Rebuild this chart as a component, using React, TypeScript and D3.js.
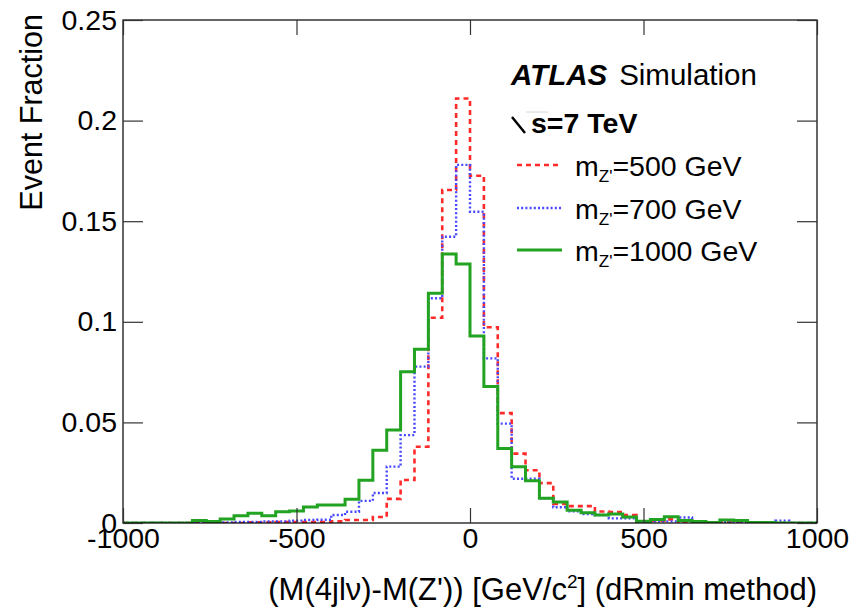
import { useEffect, useRef } from 'react';
import * as d3 from 'd3';

const width = 852;
const height = 611;
const [mt, mr, mb, ml] = [20, 35, 88, 123];
const FONT = '"Liberation Sans", Arial, Helvetica, sans-serif';

// 50 bins of 40 GeV from -1000 to 1000
const binEdges = d3.range(-1000, 1001, 40);
const xTicks = [-1000, -500, 0, 500, 1000];
const yTicks = [0, 0.05, 0.1, 0.15, 0.2, 0.25];

const mz500 = [
    0, 0, 0, 0, 0, 0, 0, 0, 0, 0.0003,
    0.0003, 0.0005, 0.0005, 0.0005, 0.0005, 0.0008, 0.0015, 0.0015, 0.003, 0.012,
    0.0214, 0.0379, 0.102, 0.1655, 0.211, 0.1726, 0.0973, 0.0546, 0.0345, 0.0262,
    0.0198, 0.0095, 0.0084, 0.0084, 0.0057, 0.0055, 0.004, 0.0007, 0.0012, 0.0018,
    0, 0, 0, 0.0003, 0.0003, 0, 0, 0, 0, 0,
];
const mz700 = [
    0, 0, 0, 0, 0, 0.0003, 0.0005, 0.0003, 0.0005, 0.0005,
    0.0008, 0.0008, 0.0012, 0.0015, 0.0016, 0.004, 0.0056, 0.011, 0.0149, 0.028,
    0.0437, 0.0777, 0.1117, 0.1423, 0.178, 0.1547, 0.0818, 0.0494, 0.022, 0.022,
    0.0123, 0.0078, 0.0058, 0.0045, 0.004, 0.0023, 0.0023, 0.0005, 0.0008, 0.0008,
    0.0027, 0.0003, 0.0002, 0.0005, 0.0005, 0.0002, 0, 0.0012, 0, 0,
];
const mz1000 = [
    0, 0, 0, 0, 0, 0.0012, 0.0008, 0.002, 0.0036, 0.0048,
    0.0036, 0.0056, 0.006, 0.008, 0.0089, 0.0089, 0.0118, 0.0212, 0.0362, 0.0462,
    0.0752, 0.0863, 0.1142, 0.1337, 0.1287, 0.0929, 0.0678, 0.037, 0.028, 0.021,
    0.0123, 0.0104, 0.0063, 0.0051, 0.004, 0.0045, 0.003, 0.0009, 0.0018, 0.0031,
    0.0012, 0.0008, 0.0003, 0.0015, 0.0013, 0.0003, 0.0002, 0, 0, 0,
];

const series = [
    { mass: '500', values: mz500, color: '#ff2b2b', dash: '5,4', width: 2.6 },
    { mass: '700', values: mz700, color: '#4848ff', dash: '2,2.2', width: 2.4 },
    { mass: '1000', values: mz1000, color: '#22a322', dash: null, width: 3 },
];

export default function App() {
    const ref = useRef<SVGSVGElement>(null);

    useEffect(() => {
        const svg = d3.select(ref.current);
        svg.selectAll('*').remove();

        const x = d3.scaleLinear().domain([-1000, 1000]).range([ml, width - mr]);
        const y = d3.scaleLinear().domain([0, 0.25]).range([height - mb, mt]);

        svg.append('defs')
            .append('clipPath')
            .attr('id', 'plot-clip')
            .append('rect')
            .attr('x', ml)
            .attr('y', mt - 2)
            .attr('width', width - ml - mr)
            .attr('height', height - mt - mb + 2);

        // histograms as step outlines
        const line = d3
            .line<[number, number]>()
            .x((d) => x(d[0]))
            .y((d) => y(d[1]))
            .curve(d3.curveStepAfter);

        const hists = svg.append('g').attr('clip-path', 'url(#plot-clip)');
        series.forEach((s) => {
            const pts: [number, number][] = s.values.map((v, i) => [binEdges[i], v]);
            pts.push([binEdges[binEdges.length - 1], s.values[s.values.length - 1]]);
            hists
                .append('path')
                .attr('d', line(pts))
                .attr('fill', 'none')
                .attr('stroke', s.color)
                .attr('stroke-width', s.width)
                .attr('stroke-dasharray', s.dash)
                .attr('stroke-linejoin', 'miter');
        });

        // frame
        svg.append('rect')
            .attr('x', ml)
            .attr('y', mt)
            .attr('width', width - ml - mr)
            .attr('height', height - mt - mb)
            .attr('fill', 'none')
            .attr('stroke', '#000')
            .attr('stroke-width', 1.2);

        const styleAxis = (g: any) => {
            g.select('.domain').remove();
            g.selectAll('line').attr('stroke', '#333').attr('stroke-width', 1.2);
            g.attr('font-family', FONT).attr('font-size', 28.5);
            g.selectAll('text').attr('fill', '#000');
        };

        svg.append('g')
            .attr('transform', `translate(0,${height - mb})`)
            .call(d3.axisBottom(x).tickValues(xTicks).tickSizeInner(-15).tickSizeOuter(0).tickPadding(5).tickFormat((d: any) => String(d)))
            .call(styleAxis);
        svg.append('g')
            .attr('transform', `translate(0,${mt})`)
            .call(d3.axisTop(x).tickValues(xTicks).tickSizeInner(-15).tickSizeOuter(0).tickFormat(() => ''))
            .call(styleAxis);
        svg.append('g')
            .attr('transform', `translate(${ml},0)`)
            .call(
                d3
                    .axisLeft(y)
                    .tickValues(yTicks)
                    .tickSizeInner(-20)
                    .tickSizeOuter(0)
                    .tickPadding(6)
                    .tickFormat((d: any) => (d === 0 ? '0' : String(d)))
            )
            .call(styleAxis);
        svg.append('g')
            .attr('transform', `translate(${width - mr},0)`)
            .call(d3.axisRight(y).tickValues(yTicks).tickSizeInner(-20).tickSizeOuter(0).tickFormat(() => ''))
            .call(styleAxis);

        // axis titles
        svg.append('text')
            .attr('transform', `translate(42,14) rotate(-90)`)
            .attr('text-anchor', 'end')
            .attr('font-family', FONT)
            .attr('font-size', 30.5)
            .text('Event Fraction');

        const xt = svg
            .append('text')
            .attr('x', width - mr)
            .attr('y', 600)
            .attr('text-anchor', 'end')
            .attr('font-family', FONT)
            .attr('font-size', 31);
        xt.append('tspan').text("(M(4jl\u03bd)-M(Z')) [GeV/c");
        xt.append('tspan').attr('font-size', 19).attr('dy', -12).text('2');
        xt.append('tspan').attr('dy', 12).text('] (dRmin method)');

        // ATLAS label
        const atlas = svg.append('text').attr('x', 511).attr('y', 85).attr('font-family', FONT).attr('font-size', 29.5);
        atlas.append('tspan').attr('font-weight', 'bold').attr('font-style', 'italic').text('ATLAS');
        atlas.append('tspan').attr('dx', 12).text('Simulation');

        // sqrt(s)
        svg.append('path')
            .attr('d', 'M512,117 L525,133')
            .attr('stroke', '#000')
            .attr('stroke-width', 2.4)
            .attr('fill', 'none');
        svg.append('path')
            .attr('d', 'M526,112 L548,112')
            .attr('stroke', '#ccc')
            .attr('stroke-width', 0.8)
            .attr('fill', 'none');
        svg.append('text')
            .attr('x', 531)
            .attr('y', 133)
            .attr('font-family', FONT)
            .attr('font-size', 28.5)
            .attr('font-weight', 'bold')
            .text('s=7 TeV');

        // legend
        const rowY = [165, 208, 250];
        series.forEach((s, i) => {
            svg.append('line')
                .attr('x1', 517)
                .attr('x2', 562)
                .attr('y1', rowY[i])
                .attr('y2', rowY[i])
                .attr('stroke', s.color)
                .attr('stroke-width', s.width)
                .attr('stroke-dasharray', s.dash);
            const t = svg
                .append('text')
                .attr('x', 575)
                .attr('y', rowY[i] + 11)
                .attr('font-family', FONT)
                .attr('font-size', 28.5);
            t.append('tspan').text('m');
            t.append('tspan').attr('font-size', 17).attr('dy', 6).text("Z'");
            t.append('tspan').attr('dy', -6).text(`=${s.mass} GeV`);
        });
    }, []);

    return (
        <svg
            ref={ref}
            width={width}
            height={height}
            style={{ position: 'absolute', left: 0, top: 0, background: '#fff' }}
        />
    );
}
